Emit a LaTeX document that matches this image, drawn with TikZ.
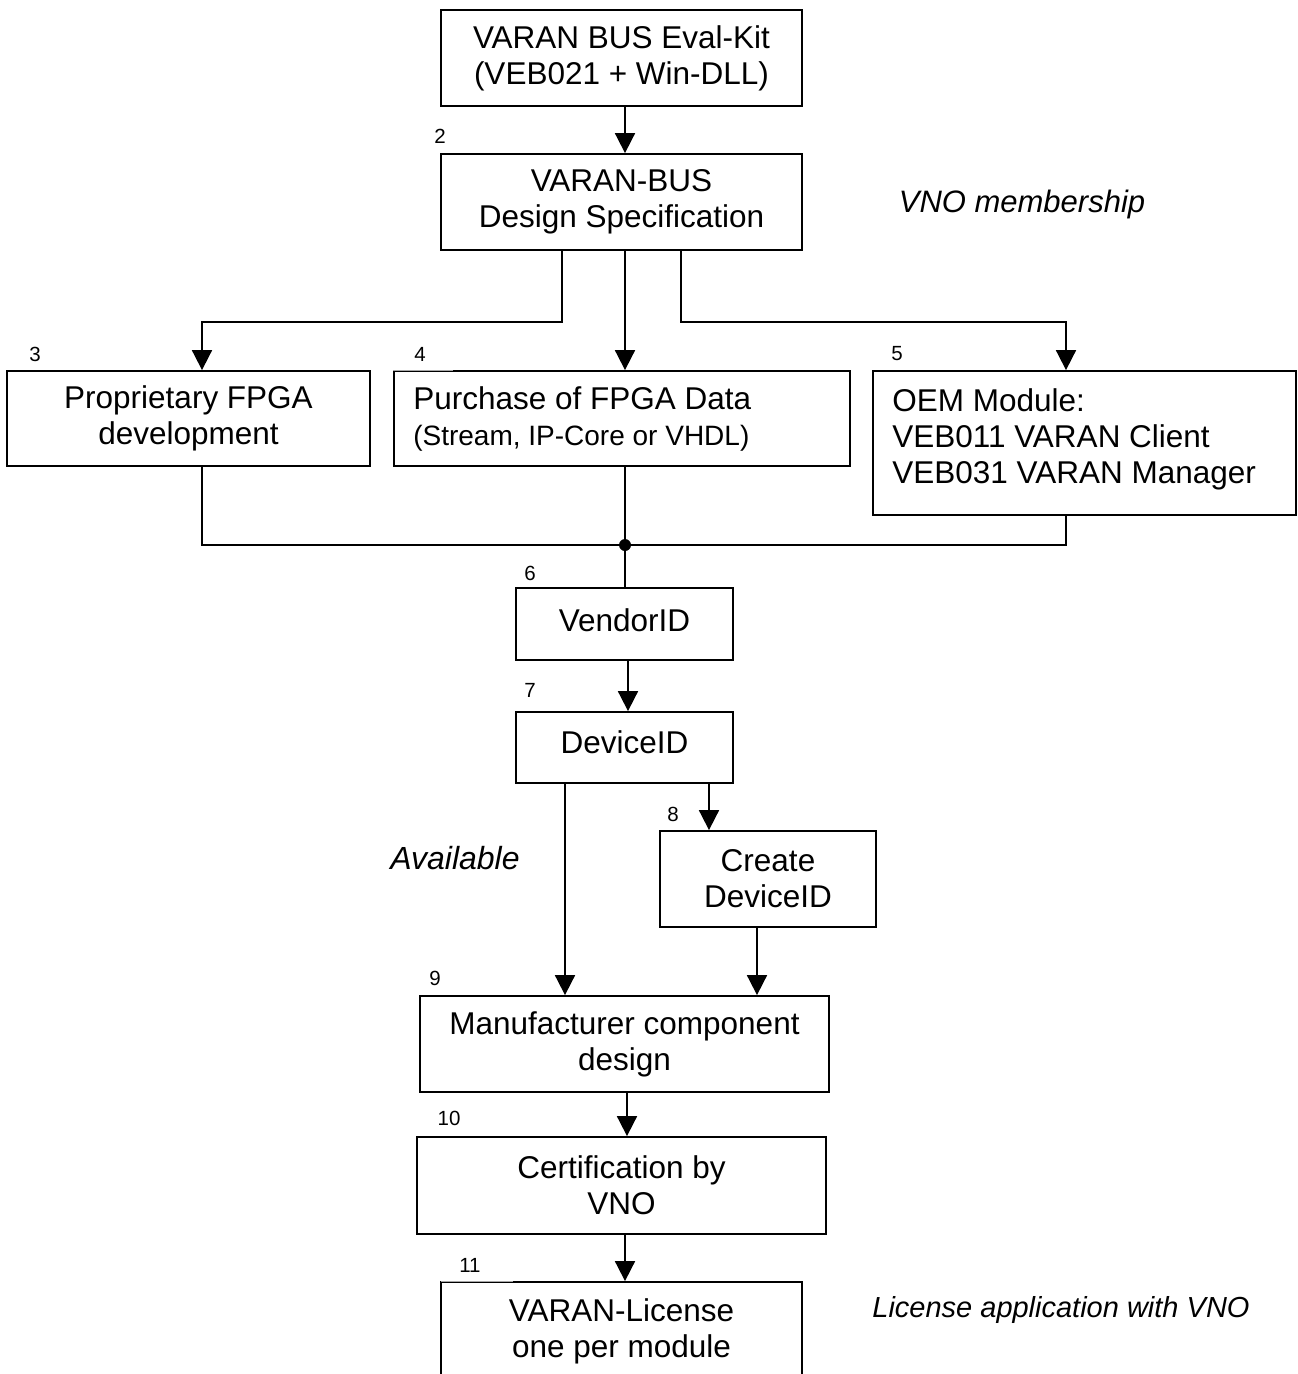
\documentclass[tikz,border=0pt]{standalone}
\usepackage{fontspec}
\setmainfont{Liberation Sans}
\usetikzlibrary{arrows.meta}
\begin{document}
\begin{tikzpicture}[x=1pt,y=-1pt,
  box/.style={draw, line width=1.8pt, inner sep=0pt, align=center, font=\fontsize{31.5}{36}\selectfont},
  boxtext/.style={inner sep=0pt, align=left, anchor=west, font=\fontsize{31.5}{36}\selectfont},
  num/.style={font=\fontsize{20.5}{24}\selectfont, inner sep=0pt},
  note/.style={font=\fontsize{31}{36}\selectfont\itshape, inner sep=0pt},
  conn/.style={line width=1.8pt},
  arr/.style={conn, -{Triangle[width=20pt,length=20pt]}}]
\useasboundingbox (0,0) rectangle (1298,1374);
\clip (0,0) rectangle (1298,1374);
\fill[white] (0,0) rectangle (1298,1374);

% boxes
\node[box, minimum width=361pt, minimum height=96pt] (b1) at (621.5,58) {VARAN BUS Eval-Kit\\(VEB021 + Win-DLL)};
\node[box, minimum width=361pt, minimum height=96pt] (b2) at (621.5,202) {VARAN-BUS\\Design Specification};
\node[box, minimum width=363pt, minimum height=95pt] (b3) at (188.5,418.5) {Proprietary FPGA\\development};
\node[box, minimum width=456pt, minimum height=95pt] (b4) at (622,418.5) {};
\node[boxtext] (b4t) at ([xshift=20pt]b4.west) {Purchase of FPGA Data\\{\fontsize{28}{32}\selectfont (Stream, IP-Core or VHDL)}};
\node[box, minimum width=423pt, minimum height=144pt] (b5) at (1084.5,443) {};
\node[boxtext] (b5t) at ([xshift=20pt,yshift=4pt]b5.west) {OEM Module:\\VEB011 VARAN Client\\VEB031 VARAN Manager};
\node[box, minimum width=217pt, minimum height=72pt] (b6) at (624.5,624) {};
\node[box, font=\fontsize{31.5}{36}\selectfont, draw=none] (b6t) at (624.5,620) {VendorID};
\node[box, minimum width=217pt, minimum height=71pt] (b7) at (624.5,747.5) {};
\node[box, draw=none] (b7t) at (624.5,742) {DeviceID};
\node[box, minimum width=216pt, minimum height=96pt] (b8) at (768,879) {Create\\DeviceID};
\node[box, minimum width=409pt, minimum height=96pt] (b9) at (624.5,1044) {Manufacturer component\\design};
\node[box, minimum width=409pt, minimum height=97pt] (b10) at (621.5,1185.5) {Certification by\\VNO};
\node[box, minimum width=361pt, minimum height=98pt] (b11) at (621.5,1331) {VARAN-License\\one per module};

% lighter top-border segments
\draw[white, line width=2.4pt] (b4.north west) -- ++(60,0);
\draw[black!35, line width=0.6pt] (b4.north west) -- ++(60,0);
\draw[white, line width=2.4pt] ([xshift=1pt]b11.north west) -- ++(72,0);
\draw[black!35, line width=0.6pt] ([xshift=1pt]b11.north west) -- ++(72,0);

% numbers
\node[num] (n2) at (440,136) {2};
\node[num] (n3) at (35,354) {3};
\node[num] (n4) at (420,354) {4};
\node[num] (n5) at (897,354) {5};
\node[num] (n6) at (530,573) {6};
\node[num] (n7) at (530,690) {7};
\node[num] (n8) at (673,814) {8};
\node[num] (n9) at (435,978) {9};
\node[num] (n10) at (449,1118) {10};
\node[num] (n11) at (470,1265) {11};

% notes
\node[note] (t1) at (1022,204) {VNO membership};
\node[note, font=\fontsize{32}{36}\selectfont\itshape] (t2) at (455,858) {Available};
\node[note, font=\fontsize{29}{34}\selectfont\itshape] (t3) at (1061,1310) {License application with VNO};

% coordinates
\coordinate (x1) at (625,130);
\coordinate (ja) at (562,322);
\coordinate (jb) at (681,322);
\coordinate (jc) at (625,322);
\coordinate (j3) at (202,322);
\coordinate (j5) at (1066,322);
\coordinate (m3) at (202,545);
\coordinate (m5) at (1066,545);
\coordinate (md) at (625,545);
\coordinate (k1) at (628,690);
\coordinate (k2) at (565,900);
\coordinate (k3) at (709,800);
\coordinate (k4) at (757,950);
\coordinate (k5) at (627,1110);
\coordinate (k6) at (625,1260);

% connectors
\draw[arr] (b1.south -| x1) -- (b2.north -| x1);
\draw[arr] (b2.south -| ja) -- (ja) -- (j3) -- (b3.north -| j3);
\draw[arr] (b2.south -| jc) -- (b4.north -| jc);
\draw[arr] (b2.south -| jb) -- (jb) -- (j5) -- (b5.north -| j5);
\draw[conn] (b3.south -| m3) -- (m3) -- (m5) -- (b5.south -| m5);
\draw[conn] (b4.south -| md) -- (b6.north -| md);
\fill (md) circle[radius=6pt];
\draw[arr] (b6.south -| k1) -- (b7.north -| k1);
\draw[arr] (b7.south -| k2) -- (b9.north -| k2);
\draw[arr] (b7.south -| k3) -- (b8.north -| k3);
\draw[arr] (b8.south -| k4) -- (b9.north -| k4);
\draw[arr] (b9.south -| k5) -- (b10.north -| k5);
\draw[arr] (b10.south -| k6) -- (b11.north -| k6);
\end{tikzpicture}
\end{document}
